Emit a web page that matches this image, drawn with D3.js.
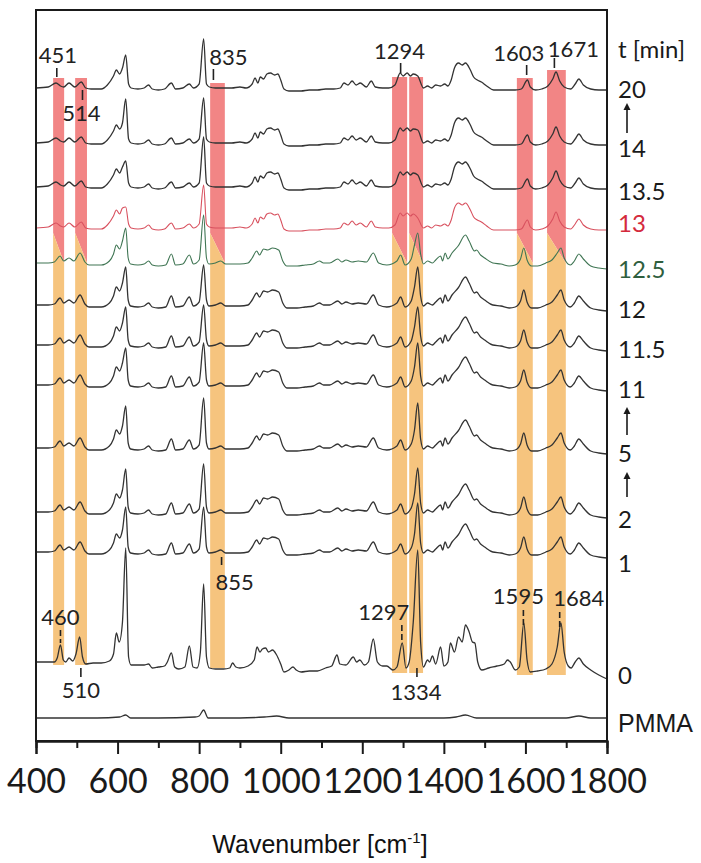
<!DOCTYPE html>
<html><head><meta charset="utf-8">
<script src="https://cdn.jsdelivr.net/npm/d3@7/dist/d3.min.js"></script>
<style>body{margin:0;background:#fff}</style>
</head><body>
<svg id="c" width="701" height="863"></svg>
<script>
// ---------- DATA ----------
const traceLabels = ["20","14","13.5","13","12.5","12","11.5","11","5","2","1","0","PMMA"];
const traceShape  = ["A","A","A","A","B","B","B","B","B","B","B","Z","P"];
// stacking offset of each trace (intensity units, left-edge baseline)
const traceOffset = [652,597,553,512,477,435,395,355,292,228,188,78,22];
// apex heights of the three main bands, per trace
const peak620  = [33,44,26,21,35,38,38,37,42,43,45,114,3];
const peak811  = [49,45,50,43,48,40,40,42,50,48,45,78,8];
const peak1336 = [12,13,12,10,30,38,38,42,45,44,49,112,0];

// spectral shapes [wavenumber, intensity above left baseline]
const shapeA = [[400,0],[430,1],[449,5],[460,2],[468,1],[481,5],[495,1],[511,6],[522,0],[535,-1],[560,-1],[575,3],[590,12],[597,18],[605,14],[612,20],
 [627,4],[633,0],[650,-1],[665,0],[676,3],[685,-1],[700,-2],[715,-1],[732,5],[742,-1],[760,0],[776,4],[786,0],[800,4],
 [818,4],[825,1],[840,0],[860,0],[880,0],[900,1],[915,0],[930,4],[937,10],[944,5],[950,11],[958,9],[966,14],[975,15],[985,13],[993,14],[1000,8],[1008,-1],
 [1020,-3],[1050,-3],[1070,-2],[1090,-2],[1110,-1],[1130,-1],[1146,0],[1155,5],[1165,3],[1175,7],[1185,3],[1195,5],[1210,1],[1222,7],[1232,1],[1250,0],[1265,0],
 [1280,3],[1293,15],[1300,12],[1310,15],[1318,12],[1325,14],[1350,0],[1360,2],[1370,0],[1380,3],[1392,2],[1402,4],[1410,2],[1418,8],[1426,20],[1436,25],
 [1445,23],[1453,25],[1465,18],[1473,11],[1482,8],[1492,6],[1505,2],[1522,-2],[1550,-2],[1575,-2],[1590,-1],[1605,8],[1612,1],[1625,-2],[1640,-1],[1655,2],
 [1667,9],[1675,16],[1684,7],[1695,1],[1711,-1],[1722,4],[1731,9],[1742,3],[1760,-1],[1780,-2],[1800,-2]];

const shapeB = [[400,0],[430,0],[445,1],[459,7],[468,2],[481,5],[493,2],[508,10],[520,1],[530,-2],[560,-2],[580,2],[590,9],[597,18],[605,14],[612,22],
 [626,5],[632,-1],[650,-2],[665,-1],[676,2],[685,-2],[700,-3],[718,-2],[732,9],[742,-2],[760,-1],[776,8],[786,-1],[800,3],
 [818,5],[824,-1],[840,0],[853,2],[865,-1],[900,-1],[920,0],[930,5],[941,12],[948,8],[958,14],[968,13],[980,15],[995,13],[1005,2],[1015,-3],
 [1040,-3],[1060,-2],[1080,-1],[1095,2],[1105,0],[1120,0],[1140,4],[1150,1],[1160,3],[1175,1],[1190,2],[1210,1],[1227,10],[1240,0],[1260,-2],
 [1285,2],[1294,8],[1305,-2],[1320,4],[1328,18],[1343,9],[1350,-1],[1360,2],[1372,0],[1380,3],[1392,7],[1397,2],[1403,10],[1410,4],[1420,10],[1435,17],
 [1453,28],[1462,22],[1475,12],[1480,13],[1490,8],[1500,5],[1520,0],[1540,-1],[1560,-3],[1575,-2],[1588,4],[1596,15],[1604,3],[1615,-3],[1630,-3],
 [1650,0],[1665,3],[1678,10],[1687,15],[1695,5],[1710,-2],[1720,2],[1731,9],[1742,4],[1760,-3],[1780,-5],[1800,-6]];

const shape0 = [[400,0],[430,0],[445,0],[452,4],[460,17],[467,2],[473,0],[481,4],[490,1],[498,8],[507,25],[514,5],[522,-2],[540,-1],[560,-1],[580,1],
 [590,8],[597,29],[604,20],[612,40],[627,5],[633,-3],[650,-3],[665,-3],[676,-2],[685,-6],[700,-5],[715,-4],[722,0],[732,9],[740,-5],[750,-7],[765,-5],
 [776,16],[785,-5],[795,-6],[803,10],[818,5],[825,-6],[840,-7],[860,-7],[875,-6],[882,-1],[890,-5],[900,-6],[920,-4],[935,2],[942,15],[949,10],[955,13],
 [963,14],[970,10],[980,12],[990,7],[1000,-2],[1008,-10],[1020,-8],[1030,-5],[1038,-8],[1050,-10],[1070,-9],[1090,-9],[1110,-6],[1125,-4],[1138,7],
 [1145,-2],[1160,-3],[1178,5],[1186,0],[1194,2],[1205,-3],[1215,0],[1227,23],[1237,0],[1250,-4],[1260,-4],[1275,-8],[1285,-5],[1298,19],[1307,-6],
 [1315,0],[1325,40],[1343,20],[1350,-5],[1360,2],[1365,0],[1372,6],[1380,-2],[1392,15],[1400,-4],[1410,0],[1416,19],[1426,10],[1436,25],[1445,20],
 [1453,37],[1462,30],[1470,20],[1476,19],[1483,0],[1493,-8],[1510,-6],[1530,-4],[1548,-2],[1556,2],[1563,0],[1575,-8],[1585,-5],[1596,39],[1604,2],
 [1612,-10],[1630,-9],[1650,-7],[1665,-2],[1678,15],[1687,39],[1695,10],[1705,-4],[1712,-6],[1722,0],[1731,4],[1742,-2],[1760,-8],[1780,-13],[1800,-17]];

const shapePMMA = [[400,0],[550,0],[605,1],[632,0],[700,0],[790,1],[800,2],[822,0],[900,0],[960,1],[990,2],[1020,0],[1200,0],[1400,0],[1430,1],
 [1453,3],[1480,0],[1700,0],[1731,2],[1760,0],[1800,0]];

// highlighted bands [from, to] in wavenumber, top and bottom (intensity units)
const bandFrom   = [442,496,827,1273,1315,1579,1653];
const bandTo     = [469,525,863,1310,1349,1618,1699];
const bandTop    = [662,662,657,663,663,662,670];
const bandBottom = [75,75,72,67,67,65,65];
const bandSwitch = [507,477]; // red->orange transition (left, right)

// peak annotations
const annValue = ["451","514","835","1294","1603","1671","855","460","510","1297","1334","1595","1684"];
const annDashed = [false,false,false,false,false,false,false,true,false,true,false,true,true];

const xTicksMajor = [400,600,800,1000,1200,1400,1600,1800];
const xTicksMinor = [500,700,900,1100,1300,1500,1700];

// ---------- LAYOUT ----------
const svg = d3.select("#c");
const x = d3.scaleLinear().domain([400,1800]).range([36,607]);
const y = d3.scaleLinear().domain([0,730]).range([740,10]);
const shapes = {A:shapeA,B:shapeB,Z:shape0,P:shapePMMA};
const lineColor = d3.range(traceLabels.length).map(i => traceLabels[i]==="13" ? "#d8505e" : traceLabels[i]==="12.5" ? "#3f7553" : "#333");
const labelColor = d3.range(traceLabels.length).map(i => traceLabels[i]==="13" ? "#d42a3c" : traceLabels[i]==="12.5" ? "#2f5e3e" : "#1a1a1a");
const labelFont = "Lato, 'Open Sans', sans-serif";

// bands
const red = "#f28585", orange = "#f6c47e";
bandFrom.forEach((f,i)=>{
  const x0 = x(f), x1 = x(bandTo[i]);
  const t = y(bandTop[i]), b = y(bandBottom[i]), sl = y(bandSwitch[0]), sr = y(bandSwitch[1]);
  svg.append("path").attr("d",`M${x0},${t}L${x1},${t}L${x1},${sr}L${x0},${sl}Z`).attr("fill",red);
  svg.append("path").attr("d",`M${x0},${sl}L${x1},${sr}L${x1},${b}L${x0},${b}Z`).attr("fill",orange);
});

// traces
const line = d3.line().curve(d3.curveMonotoneX);
traceLabels.forEach((lab,i)=>{
  const pts = shapes[traceShape[i]].concat([[620,peak620[i]],[811,peak811[i]],[1336,peak1336[i]]]).sort((a,b)=>a[0]-b[0]);
  line.x(d=>x(d[0])).y(d=>y(traceOffset[i]+d[1]));
  svg.append("path").attr("d",line(pts)).attr("fill","none")
    .attr("stroke",lineColor[i]).attr("stroke-width",(lab==="13"||lab==="12.5")?1.1:1.3).attr("stroke-linejoin","round");
});

// annotations: tick y-range & text baseline (intensity units), text x-shift (px)
const annTick1 = [672,650,671,677,675,682, 183,110, 72,115, 72,130,128];
const annTick2 = [663,640,660,667,665,672, 175, 97, 63, 97, 63,112,112];
const annText  = [677,619,675,681,679,683, 150,115, 42,120, 40,136,134];
const annDx    = [1,-1,15,-1,-8,19, 13,0,0,-18,-1,-5,19];
annValue.forEach((v,i)=>{
  const xv = x(+v);
  svg.append("line").attr("x1",xv).attr("x2",xv).attr("y1",y(annTick1[i])).attr("y2",y(annTick2[i]))
    .attr("stroke","#222").attr("stroke-width",1.6).attr("stroke-dasharray",annDashed[i]?"6,3":null);
  svg.append("text").attr("x",xv+annDx[i]).attr("y",y(annText[i])).attr("text-anchor","middle")
    .attr("font-family",labelFont).attr("font-size",22).attr("fill","#222").text(v);
});

// frame
svg.append("rect").attr("x",36).attr("y",10).attr("width",571).attr("height",731)
  .attr("fill","none").attr("stroke","#1a1a1a").attr("stroke-width",2);

// axis
const gMin = svg.append("g").attr("transform","translate(0,741)")
  .call(d3.axisBottom(x).tickValues(xTicksMinor).tickSize(7).tickFormat(""));
const gMaj = svg.append("g").attr("transform","translate(0,741)")
  .call(d3.axisBottom(x).tickValues(xTicksMajor).tickSize(13).tickFormat(d3.format("d")));
[gMin,gMaj].forEach(g=>{
  g.select(".domain").attr("stroke","#1a1a1a").attr("stroke-width",2);
  g.selectAll(".tick line").attr("stroke","#1a1a1a").attr("stroke-width",2);
});
gMaj.selectAll(".tick text").attr("y",52).attr("dy",0)
  .attr("font-family",labelFont).attr("font-size",34).attr("fill","#1a1a1a");

const xt = svg.append("text").attr("x",320).attr("y",853).attr("text-anchor","middle")
  .attr("font-family","'Liberation Sans', Arial, sans-serif").attr("font-size",25).attr("fill","#111");
xt.append("tspan").text("Wavenumber [cm");
xt.append("tspan").attr("font-size",15).attr("dy",-10).text("-1");
xt.append("tspan").attr("dy",10).text("]");

// right-hand labels (text baseline, intensity units)
const rightLabelY = [642,583,540,508,462,422,382,342,278,212,168,56,8];
svg.append("text").attr("x",618).attr("y",y(682)).attr("font-family",labelFont).attr("font-size",24).attr("fill","#1a1a1a").text("t [min]");
traceLabels.forEach((lab,i)=>{
  svg.append("text").attr("x",lab==="PMMA"?618:618).attr("y",y(rightLabelY[i]))
    .attr("font-family",lab==="PMMA"?"'Liberation Sans', Arial, sans-serif":labelFont)
    .attr("font-size",lab==="PMMA"?25:24).attr("fill",labelColor[i]).text(lab);
});
// arrows pointing to the later time (tail, head in intensity units)
const arrowFrom = [607,305,243];
const arrowTo   = [637,333,268];
arrowFrom.forEach((f,i)=>{
  const ax = 627, yb = y(f), yt = y(arrowTo[i]);
  svg.append("line").attr("x1",ax).attr("x2",ax).attr("y1",yb).attr("y2",yt+6).attr("stroke","#1a1a1a").attr("stroke-width",1.6);
  svg.append("path").attr("d",`M${ax-3.5},${yt+7}L${ax},${yt}L${ax+3.5},${yt+7}Z`).attr("fill","#1a1a1a");
});
</script>
</body></html>
